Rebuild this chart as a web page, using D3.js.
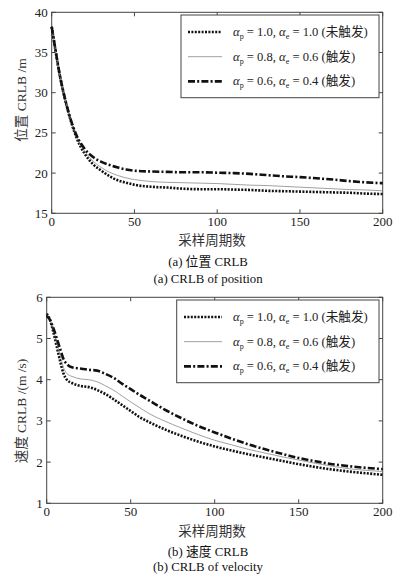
<!DOCTYPE html>
<html>
<head>
<meta charset="utf-8">
<script src="https://cdn.jsdelivr.net/npm/d3@7"></script>
<style>
  body { margin: 0; background: #fff; }
  svg { display: block; font-family: "Liberation Serif", "Noto Sans CJK SC", serif; }
  .tick-label { font-size: 13px; fill: #222; }
</style>
</head>
<body>
<svg id="chart" width="399" height="576"></svg>
<script>
// Position CRLB (top panel)
const posSteps  = [0, 2, 5, 8, 10, 15, 20, 25, 30, 35, 40, 45, 50, 60, 70, 80, 90, 100, 110, 120, 130, 140, 150, 160, 170, 180, 190, 200];
const posUntrig = [38.2, 35.6, 32.0, 29.2, 27.6, 24.4, 22.4, 21.1, 20.3, 19.6, 19.1, 18.8, 18.55, 18.3, 18.2, 18.05, 18.0, 18.0, 17.95, 17.9, 17.8, 17.75, 17.7, 17.65, 17.6, 17.55, 17.45, 17.4];
const posTrig86 = [38.2, 35.6, 32.0, 29.2, 27.6, 24.5, 22.7, 21.5, 20.7, 20.1, 19.7, 19.4, 19.2, 18.95, 18.85, 18.8, 18.75, 18.7, 18.6, 18.5, 18.45, 18.35, 18.25, 18.15, 18.05, 17.95, 17.9, 17.8];
const posTrig64 = [38.2, 35.7, 32.1, 29.3, 27.7, 24.7, 23.0, 22.0, 21.4, 21.0, 20.7, 20.45, 20.3, 20.2, 20.15, 20.1, 20.1, 20.05, 20.0, 19.9, 19.75, 19.6, 19.5, 19.35, 19.2, 19.0, 18.85, 18.75];

// Velocity CRLB (bottom panel)
const velSteps  = [0, 2, 4, 6, 8, 10, 12, 15, 20, 25, 30, 35, 40, 45, 50, 55, 60, 70, 80, 90, 100, 110, 120, 130, 140, 150, 160, 170, 180, 190, 200];
const velUntrig = [5.6, 5.45, 5.15, 4.8, 4.45, 4.15, 4.0, 3.92, 3.85, 3.82, 3.75, 3.65, 3.52, 3.38, 3.24, 3.1, 2.99, 2.8, 2.64, 2.5, 2.38, 2.28, 2.19, 2.11, 2.03, 1.95, 1.88, 1.82, 1.77, 1.73, 1.69];
const velTrig86 = [5.58, 5.45, 5.2, 4.9, 4.6, 4.3, 4.15, 4.08, 4.02, 4.0, 3.95, 3.85, 3.74, 3.6, 3.46, 3.33, 3.2, 3.0, 2.83, 2.67, 2.53, 2.42, 2.31, 2.22, 2.13, 2.05, 1.97, 1.9, 1.84, 1.8, 1.77];
const velTrig64 = [5.55, 5.45, 5.25, 5.0, 4.75, 4.5, 4.38, 4.3, 4.27, 4.24, 4.22, 4.14, 4.04, 3.9, 3.77, 3.64, 3.52, 3.28, 3.07, 2.88, 2.72, 2.57, 2.43, 2.31, 2.2, 2.1, 2.02, 1.95, 1.9, 1.86, 1.83];

const xTicks = [0, 50, 100, 150, 200];
const posTicks = [15, 20, 25, 30, 35, 40];
const velTicks = [1, 2, 3, 4, 5, 6];

// legend entries: [alpha_p, alpha_e, note]
const legendRows = [["1.0", "1.0", "未触发"], ["0.8", "0.6", "触发"], ["0.6", "0.4", "触发"]];
const lineStyles = [
  { stroke: "#111", width: 2.6, dash: "2,1.4" },
  { stroke: "#888", width: 0.8, dash: null },
  { stroke: "#111", width: 2.6, dash: "7,2.2,2,2.2" }
];

const svg = d3.select("#chart");

function panel(opt) {
  const { left, right, top, bottom } = opt.box;
  const g = svg.append("g");
  const x = d3.scaleLinear().domain([0, 200]).range([left, right]);
  const y = d3.scaleLinear().domain(opt.yDomain).range([bottom, top]);

  // box
  g.append("rect").attr("x", left).attr("y", top)
    .attr("width", right - left).attr("height", bottom - top)
    .attr("fill", "none").attr("stroke", "#444").attr("stroke-width", 1);

  // inward ticks on all sides
  const tk = 4;
  xTicks.forEach(t => {
    g.append("line").attr("x1", x(t)).attr("x2", x(t)).attr("y1", bottom).attr("y2", bottom - tk).attr("stroke", "#444");
    g.append("line").attr("x1", x(t)).attr("x2", x(t)).attr("y1", top).attr("y2", top + tk).attr("stroke", "#444");
    g.append("text").attr("class", "tick-label").attr("x", x(t)).attr("y", bottom + 13)
      .attr("text-anchor", "middle").text(t);
  });
  opt.yTicks.forEach(t => {
    g.append("line").attr("x1", left).attr("x2", left + tk).attr("y1", y(t)).attr("y2", y(t)).attr("stroke", "#444");
    g.append("line").attr("x1", right).attr("x2", right - tk).attr("y1", y(t)).attr("y2", y(t)).attr("stroke", "#444");
    g.append("text").attr("class", "tick-label").attr("x", left - 4).attr("y", y(t) + 4.5)
      .attr("text-anchor", "end").text(t);
  });

  // curves
  const line = d3.line().x(d => x(d[0])).y(d => y(d[1])).curve(d3.curveMonotoneX);
  opt.series.forEach((vals, i) => {
    const s = lineStyles[i];
    g.append("path").datum(opt.steps.map((t, k) => [t, vals[k]]))
      .attr("d", line).attr("fill", "none")
      .attr("stroke", s.stroke).attr("stroke-width", s.width)
      .attr("stroke-dasharray", s.dash);
  });

  // legend
  const lg = opt.legend;
  g.append("rect").attr("x", lg.x).attr("y", lg.y).attr("width", lg.w).attr("height", lg.h)
    .attr("fill", "#fff").attr("stroke", "#444").attr("stroke-width", 1);
  legendRows.forEach((r, i) => {
    const ry = lg.y + 17 + i * 24.7;
    const s = lineStyles[i];
    g.append("line").attr("x1", lg.lx0).attr("x2", 222).attr("y1", ry).attr("y2", ry)
      .attr("stroke", s.stroke).attr("stroke-width", s.width).attr("stroke-dasharray", s.dash);
    const t = g.append("text").attr("x", 233).attr("y", ry + 4).style("font-size", "12.6px").attr("fill", "#222");
    t.append("tspan").style("font-style", "italic").text("α");
    t.append("tspan").attr("dy", 3).style("font-size", "8px").text("p");
    t.append("tspan").attr("dy", -3).text(` = ${r[0]}, `);
    t.append("tspan").style("font-style", "italic").text("α");
    t.append("tspan").attr("dy", 3).style("font-size", "8px").text("e");
    t.append("tspan").attr("dy", -3).text(` = ${r[1]} (${r[2]})`);
  });

  // labels
  g.append("text").attr("transform", `translate(26,${opt.yLabelY}) rotate(-90)`)
    .attr("text-anchor", "middle").style("font-size", "13.5px").attr("fill", "#333").text(opt.yLabel);
  g.append("text").attr("x", 212).attr("y", opt.xLabelY).attr("text-anchor", "middle")
    .style("font-size", "13.5px").attr("fill", "#333").text("采样周期数");
  opt.captions.forEach((c, i) => {
    g.append("text").attr("x", 208).attr("y", opt.capY[i]).attr("text-anchor", "middle")
      .style("font-size", "12.8px").attr("fill", "#111").text(c);
  });
}

panel({
  box: { left: 51.7, right: 382.7, top: 12.3, bottom: 213.3 },
  yDomain: [15, 40], yTicks: posTicks,
  steps: posSteps, series: [posUntrig, posTrig86, posTrig64],
  legend: { x: 181, y: 15, w: 198, h: 82.7, lx0: 188 },
  yLabel: "位置 CRLB /m", yLabelY: 100,
  xLabelY: 245, captions: ["(a) 位置 CRLB", "(a) CRLB of position"], capY: [265.5, 282.5]
});

panel({
  box: { left: 46.7, right: 382.7, top: 297.3, bottom: 503.3 },
  yDomain: [1, 6], yTicks: velTicks,
  steps: velSteps, series: [velUntrig, velTrig86, velTrig64],
  legend: { x: 176.7, y: 300, w: 202.3, h: 82.7, lx0: 184 },
  yLabel: "速度 CRLB /(m /s)", yLabelY: 411,
  xLabelY: 535.5, captions: ["(b) 速度 CRLB", "(b) CRLB of velocity"], capY: [556, 571]
});
</script>
</body>
</html>
